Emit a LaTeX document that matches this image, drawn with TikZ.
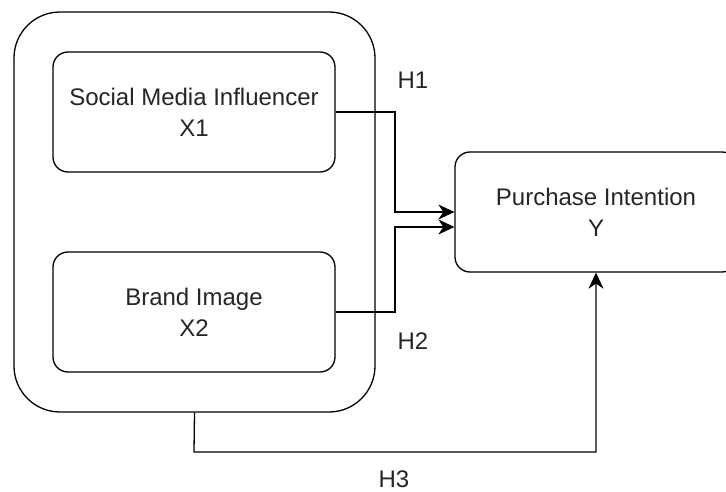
\documentclass[tikz,border=0pt]{standalone}
\usepackage{fontspec}
\setmainfont{Liberation Sans}
\usetikzlibrary{arrows.meta}
\begin{document}
\begin{tikzpicture}[x=1pt,y=-1pt,
  every node/.style={font=\fontsize{24}{31}\selectfont, text=black!85},
  box/.style={draw, line width=1.3pt, rounded corners=15pt, minimum width=282pt,
    minimum height=120pt, align=center, inner sep=0pt},
  group/.style={draw, line width=1.3pt, rounded corners=46pt, minimum width=361pt,
    minimum height=400pt, inner sep=0pt},
  link/.style={line width=1.3pt, -{Stealth[length=16pt,width=15pt,inset=5pt]}},
  hyp/.style={inner sep=0pt}]
  \useasboundingbox (0,0) rectangle (726,492);
  \clip (0,0) rectangle (726,492);
  \fill[white] (0,0) rectangle (726,492);

  % predictors grouped in one rounded frame
  \node[group] (grp) at (194.5,212) {};
  \node[box] (smi) at (194,112) {Social Media Influencer\\X1};
  \node[box] (bi) at (194,312) {Brand Image\\X2};

  % outcome
  \node[box] (pi) at (596,212) {Purchase Intention\\Y};

  % hypothesised paths
  \draw[link] (smi.east) -- (395,112) |- (pi.west);
  \draw[link] (bi.east) -- (395,312) |- ([yshift=-15pt]pi.west);
  \draw[link] (grp.south) -- (194,452) -| (pi.south);

  \node[hyp] (h1) at (413,80) {H1};
  \node[hyp] (h2) at (413,341) {H2};
  \node[hyp] (h3) at (394,479) {H3};
\end{tikzpicture}
\end{document}
